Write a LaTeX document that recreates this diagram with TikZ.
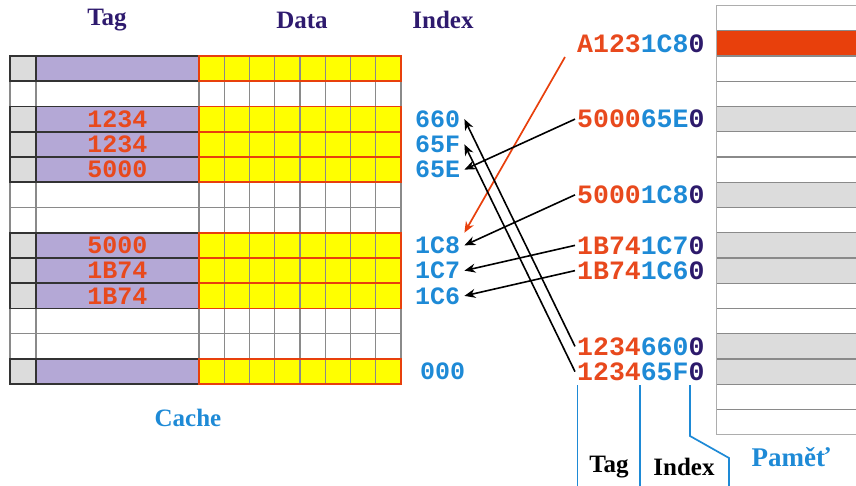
\documentclass[tikz,border=0pt]{standalone}
\usepackage{fontspec}
\setmainfont{Liberation Serif}
\newfontfamily\monob{Liberation Mono}
\usetikzlibrary{arrows.meta}
\definecolor{tagred}{HTML}{E8491D}
\definecolor{idxblue}{HTML}{1E8AD6}
\definecolor{offpurple}{HTML}{2D1A6B}
\definecolor{headpurple}{HTML}{2E1A6E}
\definecolor{lavender}{HTML}{B4A8D6}
\definecolor{validgray}{HTML}{DCDCDC}
\definecolor{cellyellow}{HTML}{FFFF00}
\definecolor{rowred}{HTML}{E8400C}
\definecolor{gridgray}{HTML}{8A8A8A}
\definecolor{framegray}{HTML}{333333}
\tikzset{
  gridline/.style={draw=gridgray, line width=1.1pt},
  tagframe/.style={draw=framegray, line width=1.8pt},
  dataframe/.style={draw=rowred, line width=1.8pt},
  memline/.style={draw=gridgray, line width=1.1pt},
  heading/.style={font=\bfseries\fontsize{25}{28}\selectfont, text=headpurple, inner sep=0pt},
  tagval/.style={font=\monob\bfseries\fontsize{25}{28}\selectfont, text=tagred, inner sep=0pt},
  idx/.style={font=\monob\bfseries\fontsize{25}{28}\selectfont, text=idxblue, inner sep=4pt, anchor=west},
  addr/.style={font=\monob\bfseries\fontsize{26.5}{30}\selectfont, inner sep=2pt, anchor=west},
  arr/.style={draw=black, line width=1.6pt, -{Stealth[length=11pt,width=9pt]}},
  redarr/.style={draw=rowred, line width=1.7pt, -{Stealth[length=11pt,width=9pt]}},
  fieldline/.style={draw=idxblue, line width=1.7pt},
  bottomlabel/.style={font=\bfseries\fontsize{25}{28}\selectfont, inner sep=0pt},
}
\newcommand{\addrtext}[3]{{\color{tagred}#1}{\color{idxblue}#2}{\color{offpurple}#3}}
\begin{document}
\begin{tikzpicture}[x=1pt,y=-1pt]
\useasboundingbox (0,0) rectangle (856,486);
\def\rh{25.25}

% ---------- cache: empty grid ----------
\foreach \r in {0,...,13}
  \draw[gridline] (10,{56+\r*\rh}) -- (401,{56+\r*\rh});
\foreach \x in {10,36,199}
  \draw[gridline] (\x,56) -- (\x,{56+13*\rh});
\foreach \k in {1,...,8}
  \draw[gridline] ({199+\k*\rh},56) -- ({199+\k*\rh},{56+13*\rh});

% ---------- cache: occupied lines ----------
\foreach \r/\t in {0/,2/1234,3/1234,4/5000,7/5000,8/1B74,9/1B74,12/} {
  \pgfmathsetmacro{\ytop}{56+\r*\rh}
  \pgfmathsetmacro{\ybot}{56+(\r+1)*\rh}
  \fill[validgray] (10,\ytop) rectangle (36,\ybot);
  \fill[lavender] (36,\ytop) rectangle (199,\ybot);
  \fill[cellyellow] (199,\ytop) rectangle (401,\ybot);
  \foreach \k in {1,...,7}
    \draw[gridline] ({199+\k*\rh},\ytop) -- ({199+\k*\rh},\ybot);
  \draw[tagframe] (10,\ytop) rectangle (199,\ybot);
  \draw[tagframe] (36,\ytop) -- (36,\ybot);
  \draw[dataframe] (199,\ytop) rectangle (401,\ybot);
  \node[tagval] (tag\r) at (117.5,{(\ytop+\ybot)/2}) {\t};
}

% ---------- headings ----------
\node[heading] (hTag) at (107,20) {Tag};
\node[heading] (hData) at (302,20) {Data};
\node[heading] (hIndex) at (443,20) {Index};
\node[bottomlabel, text=idxblue] (lCache) at (188,418) {Cache};

% ---------- index labels ----------
\node[idx] (i660) at (411,{56+2.5*\rh}) {660};
\node[idx] (i65F) at (411,{56+3.5*\rh}) {65F};
\node[idx] (i65E) at (411,{56+4.5*\rh}) {65E};
\node[idx] (i1C8) at (411,{56+7.5*\rh}) {1C8};
\node[idx] (i1C7) at (411,{56+8.5*\rh}) {1C7};
\node[idx] (i1C6) at (411,{56+9.5*\rh}) {1C6};
\node[idx] (i000) at (416,{56+12.5*\rh}) {000};

% ---------- main memory ----------
\fill[rowred] (716,{56-1*\rh}) rectangle (856,{56+0*\rh});
\foreach \m in {2,5,7,8,11,12}
  \fill[validgray] (716,{56+\m*\rh}) rectangle (856,{56+(\m+1)*\rh});
\foreach \m in {0,...,15}
  \draw[memline] (716,{56+(\m-1)*\rh}) -- (856,{56+(\m-1)*\rh});
\draw[draw=gridgray!70, line width=1pt] (856,{56-2*\rh}) -- (716,{56-2*\rh}) -- (716,{56+15*\rh}) -- (856,{56+15*\rh});
\node[bottomlabel, text=idxblue, font=\bfseries\fontsize{27}{30}\selectfont] (lMem) at (791,457) {Paměť};

% ---------- addresses ----------
\node[addr] (aA123) at (575,{56-0.5*\rh}) {\addrtext{A123}{1C8}{0}};
\node[addr] (a500065E) at (575,{56+2.5*\rh}) {\addrtext{5000}{65E}{0}};
\node[addr] (a50001C8) at (575,{56+5.5*\rh}) {\addrtext{5000}{1C8}{0}};
\node[addr] (a1B741C7) at (575,{56+7.5*\rh}) {\addrtext{1B74}{1C7}{0}};
\node[addr] (a1B741C6) at (575,{56+8.5*\rh}) {\addrtext{1B74}{1C6}{0}};
\node[addr] (a1234660) at (575,{56+11.5*\rh}) {\addrtext{1234}{660}{0}};
\node[addr] (a123465F) at (575,{56+12.5*\rh}) {\addrtext{1234}{65F}{0}};

% ---------- mapping arrows ----------
\coordinate (redstart) at (565,57);
\draw[redarr] (redstart) -- (i1C8.north east);
\draw[arr] (a500065E.west) -- (i65E.east);
\draw[arr] (a50001C8.west) -- (i1C8.east);
\draw[arr] (a1B741C7.west) -- (i1C7.east);
\draw[arr] (a1B741C6.west) -- (i1C6.east);
\draw[arr] (a1234660.west) -- (i660.east);
\draw[arr] (a123465F.west) -- (i65F.east);

% ---------- address fields ----------
\coordinate (fTagTop) at (577.5,385);
\coordinate (fTagBot) at (577.5,486);
\coordinate (fIdxTop) at (640,385);
\coordinate (fIdxBot) at (640,486);
\coordinate (fOffTop) at (690,385);
\coordinate (fOffBend) at (690,436);
\coordinate (fOffKnee) at (729,458);
\coordinate (fOffBot) at (729,486);
\draw[fieldline] (fTagTop) -- (fTagBot);
\draw[fieldline] (fIdxTop) -- (fIdxBot);
\draw[fieldline] (fOffTop) -- (fOffBend) -- (fOffKnee) -- (fOffBot);
\node[bottomlabel, text=black] (lTag) at (609,467) {Tag};
\node[bottomlabel, text=black] (lIndex) at (684,467) {Index};
\end{tikzpicture}
\end{document}
